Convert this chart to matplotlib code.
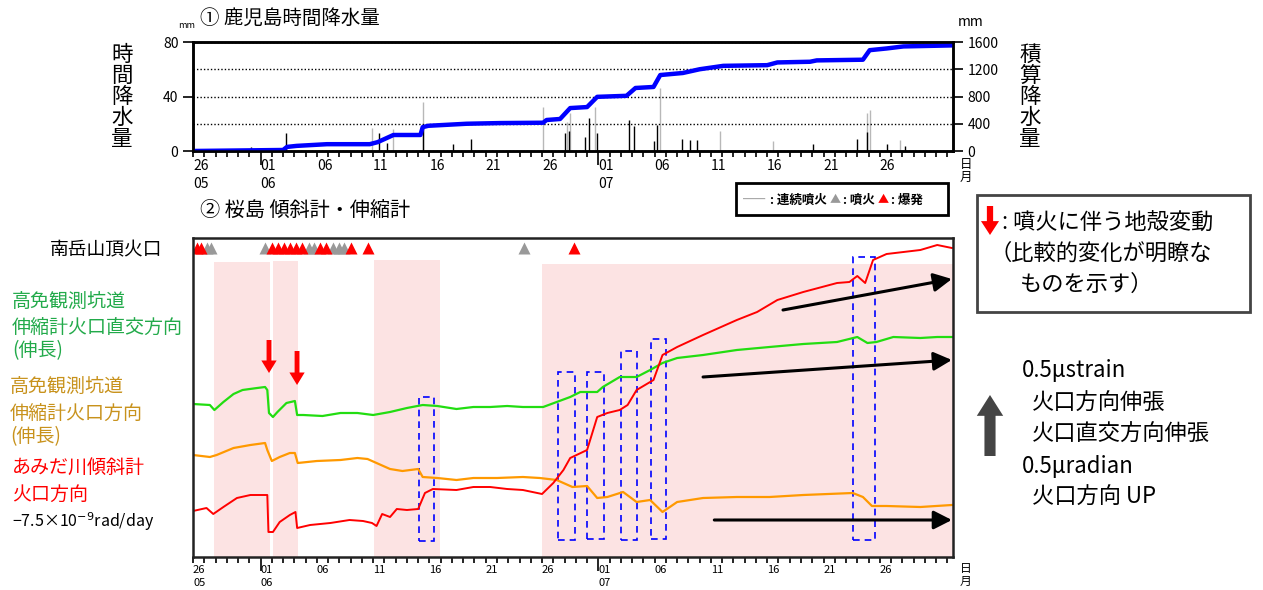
import matplotlib
matplotlib.use('Agg')

import matplotlib.pyplot as plt
from matplotlib.patches import Rectangle

plt.rcParams['font.family'] = ['Noto Sans CJK JP', 'DejaVu Sans']

W, H = 1263, 590

# x axis in days since 26 May (6 = 01 Jun, 36 = 01 Jul)
xmax = 67.5
tick_days = [0, 6, 11, 16, 21, 26, 31, 36, 41, 46, 51, 56, 61]
tick_labels = ['26\n05', '01\n06', '06', '11', '16', '21', '26', '01\n07',
               '06', '11', '16', '21', '26']
month_days = [6, 36]

# (1) Kagoshima hourly rainfall (mm)
rain_days = [5.15, 8.25, 16.5, 17.2, 20.4, 23.1, 24.7, 33.0, 33.4, 34.8, 35.2,
             35.9, 38.7, 39.2, 40.9, 41.2, 43.4, 44.1, 44.8, 55.1, 59.0, 59.9,
             61.6, 63.2]
rain_mm = [3, 13, 13, 6, 19, 5, 9, 13, 15, 10, 24,
           13, 23, 18, 7, 19, 9, 8, 8, 5, 9, 14,
           5, 4]
rain_days_gray = [15.9, 17.8, 20.4, 31.1, 33.2, 33.5, 35.7, 41.5, 46.8, 51.5,
                  59.9, 60.1, 62.8]
rain_mm_gray = [17, 16, 36, 32, 21, 28, 32, 46, 15, 7, 28, 30, 8]

# cumulative rainfall (mm)
cum_days = [0, 8.0, 8.35, 9.2, 11.9, 15.7, 16.4, 17.2, 17.8, 20.2, 20.4, 20.9,
            24.3, 27.3, 31.1, 31.4, 32.6, 33.5, 35.0, 35.9, 38.5, 39.3, 40.9,
            41.5, 43.5, 45.0, 47.1, 51.0, 51.9, 54.8, 55.4, 59.5, 60.1, 61.6,
            63.1, 67.4]
cum_mm = [0, 15, 60, 75, 100, 100, 130, 190, 235, 235, 350, 370,
          400, 410, 415, 455, 470, 630, 645, 795, 810, 925, 940,
          1115, 1145, 1200, 1250, 1260, 1300, 1310, 1330, 1340, 1480, 1505,
          1535, 1550]

# (2) Sakurajima tilt / strain, relative units (58 units = 0.5 micro)
green_days = [0.0, 1.5, 1.9, 2.7, 3.6, 4.4, 5.7, 6.4, 6.6, 6.75, 7.1, 7.5, 8.3,
              9.05, 9.25, 9.8, 11.5, 13.1, 14.6, 16.0, 17.5, 19.0, 20.4, 21.7,
              23.4, 24.9, 26.4, 27.9, 29.3, 31.1, 32.3, 33.5, 34.4, 35.9, 36.4,
              37.9, 39.4, 40.6, 41.7, 43.0, 45.3, 48.3, 51.2, 54.2, 57.2, 59.0,
              59.9, 60.7, 62.2, 64.6, 66.1, 67.4]
green_val = [153, 152, 147, 155, 163, 167, 169, 170, 167, 144, 140, 145, 154,
             156, 142, 142, 141, 144, 144, 142, 145, 149, 152, 151,
             148, 150, 150, 151, 150, 150, 155, 160, 165, 165, 170,
             180, 180, 187, 194, 199, 202, 207, 210, 213, 215, 220,
             214, 215, 220, 219, 220, 220]

orange_days = [0.0, 1.5, 2.1, 3.6, 5.1, 6.4, 6.6, 7.0, 7.7, 8.6, 9.05, 9.3,
               11.0, 13.1, 14.6, 15.5, 16.3, 17.5, 18.6, 20.0, 20.4, 21.7,
               23.4, 24.9, 27.0, 29.3, 30.8, 32.3, 32.9, 33.7, 35.0, 35.9,
               36.8, 38.2, 39.4, 40.6, 41.7, 43.0, 45.3, 48.3, 51.2, 54.2,
               58.6, 59.5, 60.3, 61.6, 64.6, 67.4]
orange_val = [102, 100, 102, 109, 112, 114, 107, 96, 100, 104, 104, 94,
              96, 97, 99, 98, 94, 88, 86, 88, 80, 79,
              77, 79, 79, 80, 79, 77, 74, 70, 71, 59,
              60, 65, 55, 57, 45, 55, 59, 60, 60, 62,
              64, 60, 51, 51, 50, 52]

red_days = [0.0, 1.2, 1.8, 2.7, 3.9, 5.1, 6.6, 6.7, 7.1, 7.7, 8.6, 9.1, 9.25,
            10.4, 12.2, 13.9, 15.1, 15.9, 16.3, 16.8, 17.5, 18.1, 19.0, 20.0,
            20.6, 21.3, 23.4, 24.9, 26.4, 27.9, 29.3, 31.0, 32.0, 32.9, 33.5,
            35.0, 35.9, 36.8, 37.9, 38.6, 39.4, 40.9, 41.7, 43.0, 45.3, 48.3,
            50.1, 51.9, 54.2, 57.2, 58.3, 59.0, 59.7, 60.4, 61.6, 64.6, 66.1,
            67.4]
red_val = [46, 49, 43, 50, 59, 62, 62, 25, 25, 35, 42, 45, 29,
           32, 34, 37, 36, 34, 31, 43, 40, 48, 47, 48,
           64, 68, 67, 70, 70, 68, 67, 63, 74, 87, 99,
           107, 140, 144, 147, 152, 167, 177, 202, 210, 222, 237,
           245, 257, 265, 274, 275, 281, 274, 297, 303, 307, 312,
           309]

# eruptions at Minamidake summit crater
erupt_days = [1.25, 1.6, 6.4, 10.3, 10.75, 12.4, 13.0, 13.4, 29.4]
explode_days = [0.36, 0.7, 7.0, 7.55, 8.1, 8.6, 9.15, 9.7, 11.3, 11.8, 14.0,
                15.5, 33.8]

# shaded periods (start, end, top)
shade_start = [1.85, 7.1, 16.1, 31.0]
shade_end = [6.85, 9.3, 21.9, 67.5]
shade_top = [295, 296, 297, 293]

# dashed boxes: (x0, x1, y0, y1)
box_x0 = [20.1, 32.4, 35.0, 38.0, 40.7, 58.6]
box_x1 = [21.4, 33.9, 36.5, 39.4, 42.0, 60.6]
box_y0 = [16, 17, 18, 17, 18, 17]
box_y1 = [160, 185, 185, 206, 218, 300]

# red arrows (day, from, to)
red_arrow_day = [6.75, 9.24]
red_arrow_from = [217, 206]
red_arrow_to = [184, 172]

# black trend arrows
trend_x0 = [52.4, 45.3, 46.3]
trend_y0 = [247, 180, 37]
trend_x1 = [67.4, 67.4, 67.4]
trend_y1 = [278, 197, 37]


def ftext(x, y, s, **kw):
    kw.setdefault('va', 'center')
    return fig.text(x / W, 1 - y / H, s, **kw)


def style_xaxis(ax, fs):
    ax.set_xlim(0, xmax)
    ax.set_xticks(range(0, 68), minor=True)
    ax.set_xticks(tick_days)
    ax.set_xticklabels(tick_labels, ha='left', fontsize=fs, linespacing=1.3)
    ax.tick_params(axis='x', which='both', direction='out', length=4, width=1.2, pad=2)
    for t, d in zip(ax.xaxis.get_major_ticks(), tick_days):
        if d in month_days:
            t.tick1line.set_markersize(10)
    for s in ax.spines.values():
        s.set_linewidth(1.8)


fig = plt.figure(figsize=(W / 100, H / 100), dpi=100)

# ---- (1) rainfall ----
ax = fig.add_axes([193 / W, 1 - 151 / H, 760 / W, 109 / H])
ax.vlines(rain_days_gray, 0, rain_mm_gray, color='#b8b8b8', lw=1)
ax.vlines(rain_days, 0, rain_mm, color='k', lw=1)
ax.set_ylim(0, 80)
ax.set_yticks([0, 40, 80])
ax.tick_params(axis='y', direction='out', length=7, labelsize=10, width=1.2)
style_xaxis(ax, 10)

ax2 = ax.twinx()
ax2.plot(cum_days, cum_mm, color='#0000ff', lw=3.2)
ax2.set_ylim(0, 1600)
ax2.set_yticks([0, 400, 800, 1200, 1600])
ax2.tick_params(axis='y', direction='out', length=7, labelsize=10, width=1.2)
ax2.yaxis.grid(True, ls=(0, (1, 1.5)), color='k', lw=1)
for s in ax2.spines.values():
    s.set_linewidth(1.8)

ftext(178, 26, 'mm', fontsize=6.5)
ftext(958, 22, 'mm', fontsize=10)
ftext(200, 18, '① 鹿児島時間降水量', fontsize=14)
ftext(122, 97, '時\n間\n降\n水\n量', fontsize=15.5, ha='center', linespacing=0.95)
ftext(1030, 97, '積\n算\n降\n水\n量', fontsize=15.5, ha='center', linespacing=0.95)
ftext(960, 171, '日\n月', fontsize=9, ha='left', linespacing=1.05)

# ---- (2) tilt / strain ----
bx = fig.add_axes([193 / W, 1 - 557 / H, 760 / W, 319 / H])
bx.bar(shade_start, shade_top, width=[e - s for s, e in zip(shade_start, shade_end)],
       align='edge', color='#fce3e3', edgecolor='none', zorder=0)
bx.plot(green_days, green_val, color='#22dd11', lw=1.6)
bx.plot(orange_days, orange_val, color='#ff9900', lw=1.6)
bx.plot(red_days, red_val, color='#ff0000', lw=1.4)
bx.plot(erupt_days, [309] * len(erupt_days), '^', color='#999999', ms=9, mec='none')
bx.plot(explode_days, [309] * len(explode_days), '^', color='#ff0000', ms=9, mec='none')
for x0, x1, y0, y1 in zip(box_x0, box_x1, box_y0, box_y1):
    bx.add_patch(Rectangle((x0, y0), x1 - x0, y1 - y0, fill=False, ec='#0000ff',
                           ls=(0, (4, 3)), lw=1.2))
for d, y0, y1 in zip(red_arrow_day, red_arrow_from, red_arrow_to):
    bx.annotate('', xy=(d, y1), xytext=(d, y0),
                arrowprops=dict(facecolor='red', edgecolor='none', width=3.5,
                                headwidth=11, headlength=9))
for x0, y0, x1, y1 in zip(trend_x0, trend_y0, trend_x1, trend_y1):
    bx.annotate('', xy=(x1, y1), xytext=(x0, y0),
                arrowprops=dict(arrowstyle='-|>,head_length=0.55,head_width=0.28',
                                color='k', lw=2.2, mutation_scale=20,
                                shrinkA=0, shrinkB=0))
bx.set_ylim(0, 319)
bx.set_yticks([])
style_xaxis(bx, 8)
for s in bx.spines.values():
    s.set_color('#222222')

ftext(960, 575, '日\n月', fontsize=8.5, ha='left', linespacing=1.05)
ftext(200, 210, '② 桜島 傾斜計・伸縮計', fontsize=14.5)

# eruption legend
fig.add_artist(Rectangle((736 / W, 1 - 215 / H), 212 / W, 32 / H,
                         transform=fig.transFigure, fill=False, ec='k', lw=2))
ftext(743, 200, '━━', fontsize=8, color='#aaaaaa')
ftext(770, 200, ': 連続噴火', fontsize=9, fontweight='bold')
ftext(830, 200, '▲', fontsize=8, color='#999999')
ftext(843, 200, ': 噴火', fontsize=9, fontweight='bold')
ftext(878, 200, '▲', fontsize=8, color='#ff0000')
ftext(891, 200, ': 爆発', fontsize=9, fontweight='bold')

# left labels
green_c = '#22aa4a'
orange_c = '#c8921c'
ftext(50, 250, '南岳山頂火口', fontsize=13.5)
ftext(12, 302, '高免観測坑道', fontsize=13.7, color=green_c)
ftext(12, 327, '伸縮計火口直交方向', fontsize=13.7, color=green_c)
ftext(12, 351, '(伸長)', fontsize=13.7, color=green_c)
ftext(10, 387, '高免観測坑道', fontsize=13.7, color=orange_c)
ftext(10, 413, '伸縮計火口方向', fontsize=13.7, color=orange_c)
ftext(10, 437, '(伸長)', fontsize=13.7, color=orange_c)
ftext(12, 467, 'あみだ川傾斜計', fontsize=13.7, color='#ff0000')
ftext(12, 494, '火口方向', fontsize=13.7, color='#ff0000')
ftext(12, 522, '−7.5×10$^{-9}$rad/day', fontsize=11.5)

# right explanation box
fig.add_artist(Rectangle((977 / W, 1 - 312 / H), 273 / W, 117 / H,
                         transform=fig.transFigure, fill=False, ec='#444444', lw=2))
fig.add_artist(plt.Annotation('', xy=(990, H - 235), xytext=(990, H - 206),
                              xycoords='figure pixels', textcoords='figure pixels',
                              arrowprops=dict(facecolor='red', edgecolor='none',
                                              width=4.5, headwidth=13, headlength=10)))
ftext(1002, 222, ': 噴火に伴う地殻変動', fontsize=16)
ftext(990, 253, '（比較的変化が明瞭な', fontsize=16)
ftext(1020, 284, 'ものを示す）', fontsize=16)

# scale arrow
fig.add_artist(plt.Annotation('', xy=(990, H - 395), xytext=(990, H - 456),
                              xycoords='figure pixels', textcoords='figure pixels',
                              arrowprops=dict(facecolor='#444444', edgecolor='none',
                                              width=8, headwidth=19, headlength=15)))
ftext(1022, 371, '0.5μstrain', fontsize=16)
ftext(1032, 403, '火口方向伸張', fontsize=16)
ftext(1032, 434, '火口直交方向伸張', fontsize=16)
ftext(1022, 466, '0.5μradian', fontsize=16)
ftext(1032, 497, '火口方向 UP', fontsize=16)

plt.savefig('out.png', dpi=100)
plt.close()
